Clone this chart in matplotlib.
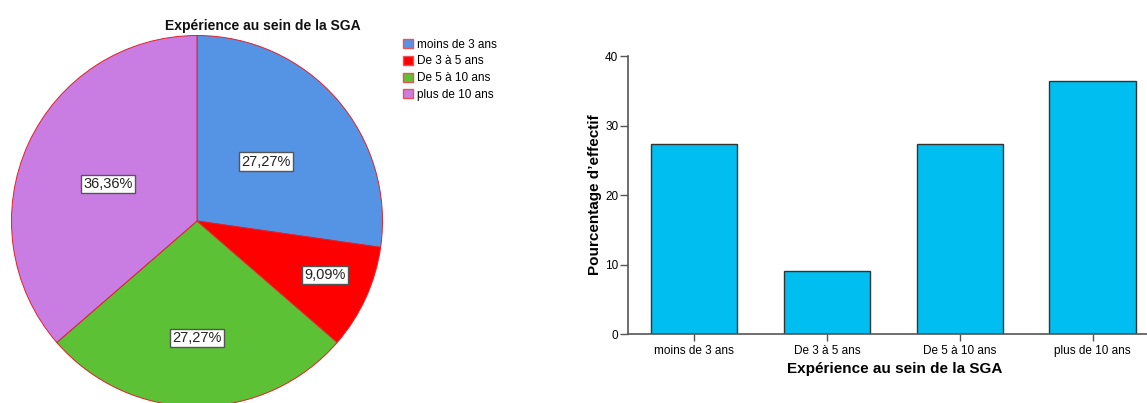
import matplotlib.pyplot as plt
import numpy as np

categories = ['moins de 3 ans', 'De 3 à 5 ans', 'De 5 à 10 ans', 'plus de 10 ans']
pourcentages = [27.27, 9.09, 27.27, 36.36]
pie_labels = ['27,27%', '9,09%', '27,27%', '36,36%']
yticks = [0, 10, 20, 30, 40]

pie_colors = ['#5594E4', '#FF0000', '#5DC136', '#C97DE3']
bar_color = '#00BFF0'
# where SPSS put the boxed labels (relative to pie radius)
label_pos = [(0.37, 0.32), (0.69, -0.29), (0.0, -0.63), (-0.48, 0.20)]

plt.rcParams['font.family'] = ['Liberation Sans', 'DejaVu Sans']

fig = plt.figure(figsize=(11.47, 4.03), dpi=100)

# pie chart
ax1 = fig.add_axes([0.01, -0.0087, 0.3235, 0.9206])
wedges, _ = ax1.pie(pourcentages, colors=pie_colors, startangle=90, counterclock=False,
                    radius=1, wedgeprops=dict(edgecolor='#E0202A', linewidth=0.7))
ax1.set_xlim(-1, 1)
ax1.set_ylim(-1, 1)
ax1.set_aspect('equal')
ax1.axis('off')
for lab, (px, py) in zip(pie_labels, label_pos):
    ax1.text(px, py, lab, ha='center', va='center', fontsize=10.5, color='#222222',
             bbox=dict(boxstyle='square,pad=0.15', facecolor='white', edgecolor='#555555', linewidth=1))

fig.text(0.2293, 0.936, 'Expérience au sein de la SGA', ha='center', va='center',
         fontsize=10, fontweight='bold', color='#111111')

handles = [plt.Rectangle((0, 0), 1, 1, facecolor=c, edgecolor='#F05050', linewidth=1) for c in pie_colors]
fig.legend(handles, categories, loc='upper left', bbox_to_anchor=(0.351, 0.904),
           frameon=False, fontsize=8.5, handlelength=0.9, handleheight=0.8,
           handletextpad=0.35, labelspacing=0.4, borderpad=0, borderaxespad=0)

# bar chart
ax2 = fig.add_axes([0.5475, 0.1712, 0.4525, 0.6898])
x = np.arange(len(categories))
ax2.bar(x, pourcentages, width=0.65, color=bar_color, edgecolor='#333333', linewidth=1)
ax2.set_xlim(-0.5, 3.41)
ax2.set_ylim(0, 40)
ax2.set_yticks(yticks)
ax2.set_xticks(x)
ax2.set_xticklabels(categories, fontsize=8.5)
ax2.tick_params(axis='y', labelsize=8.5, length=6, width=1, color='#555555', pad=1)
ax2.tick_params(axis='x', length=5, width=1, color='#555555', pad=3)
for s in ['top', 'right']:
    ax2.spines[s].set_visible(False)
for s in ['left', 'bottom']:
    ax2.spines[s].set_color('#555555')
    ax2.spines[s].set_linewidth(1.2)
ax2.set_ylabel('Pourcentage d’effectif', fontsize=11, fontweight='bold')
ax2.yaxis.set_label_coords(-0.05, 0.5)
ax2.set_xlabel('Expérience au sein de la SGA', fontsize=11, fontweight='bold')
ax2.xaxis.set_label_coords(0.514, -0.1)

fig.savefig('out.png', dpi=100)
